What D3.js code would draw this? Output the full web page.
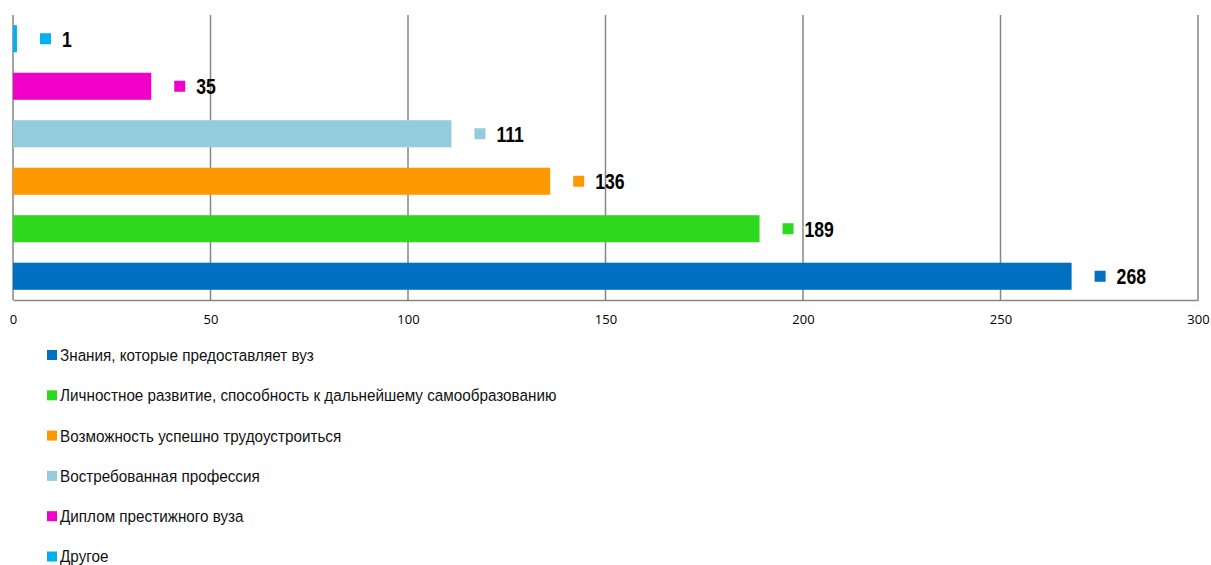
<!DOCTYPE html>
<html>
<head>
<meta charset="utf-8">
<script src="https://cdn.jsdelivr.net/npm/d3@7"></script>
<style>
  body { margin: 0; background: #fff; }
  svg { display: block; }
</style>
</head>
<body>
<svg class="chart" width="1211" height="565"></svg>
<script>
const categories = [
  "Знания, которые предоставляет вуз",
  "Личностное развитие, способность к дальнейшему самообразованию",
  "Возможность успешно трудоустроиться",
  "Востребованная профессия",
  "Диплом престижного вуза",
  "Другое"
]
const values = [268, 189, 136, 111, 35, 1]
const colors = ["#0070c0", "#2ed91f", "#ff9900", "#93cddd", "#f000c8", "#00b0f0"]
const ticks = [0, 50, 100, 150, 200, 250, 300]

const width = 1211, height = 565
const margin = {left: 13, right: 13, top: 15, bottom: 265}
// узкого шрифта нет, поэтому сжимаем Liberation Sans по горизонтали
const sans = "'Liberation Sans', Arial, sans-serif"

const svg = d3.select('.chart')

const x = d3.scaleLinear()
    .domain([0, 300])
    .range([margin.left, width - margin.right])

// Другое сверху, Знания снизу
const y = d3.scaleBand()
    .domain(categories.slice().reverse())
    .range([margin.top, height - margin.bottom])
    .paddingInner(0.43)
    .paddingOuter(0.215)

// сетка
svg.append('g')
    .selectAll('line')
    .data(ticks)
    .join('line')
    .attr('x1', d => x(d)).attr('x2', d => x(d))
    .attr('y1', margin.top).attr('y2', height - margin.bottom)
    .attr('stroke', '#868686')
    .attr('stroke-width', 1.5)

// нижняя ось
const xAxis = svg.append('g')
    .attr('transform', `translate(0, ${height - margin.bottom})`)
    .call(d3.axisBottom(x).tickValues(ticks).tickSize(0).tickPadding(15))
xAxis.select('.domain').attr('stroke', '#868686').attr('stroke-width', 1.5)
xAxis.selectAll('text')
    .attr('font-family', "'Open Sans', 'Liberation Sans', sans-serif")
    .attr('font-size', 13)
    .attr('fill', '#000')

// столбцы
svg.append('g')
    .selectAll('rect')
    .data(categories)
    .join('rect')
    .attr('x', x(0))
    .attr('y', d => y(d))
    .attr('width', (d, i) => x(values[i]) - x(0))
    .attr('height', y.bandwidth())
    .attr('fill', (d, i) => colors[i])

// подписи значений
const labels = svg.append('g')
    .selectAll('g')
    .data(categories)
    .join('g')
    .attr('transform', (d, i) => `translate(${x(values[i])}, ${y(d) + y.bandwidth() / 2})`)

labels.append('rect')
    .attr('x', 23).attr('y', -5.5)
    .attr('width', 11).attr('height', 11)
    .attr('fill', (d, i) => colors[i])

labels.append('text')
    .attr('transform', 'translate(45, 0) scale(0.8, 1)')
    .attr('dy', '0.36em')
    .attr('font-family', sans)
    .attr('font-weight', 'bold')
    .attr('font-size', 22)
    .text((d, i) => values[i])

// легенда
const legend = svg.append('g')
    .selectAll('g')
    .data(categories)
    .join('g')
    .attr('transform', (d, i) => `translate(47, ${355 + i * 40.3})`)

legend.append('rect')
    .attr('x', 0).attr('y', -5)
    .attr('width', 10).attr('height', 10)
    .attr('fill', (d, i) => colors[i])

legend.append('text')
    .attr('transform', 'translate(13, 0) scale(0.925, 1)')
    .attr('dy', '0.36em')
    .attr('font-family', sans)
    .attr('font-size', 16.5)
    .attr('fill', '#111')
    .text(d => d)
</script>
</body>
</html>
